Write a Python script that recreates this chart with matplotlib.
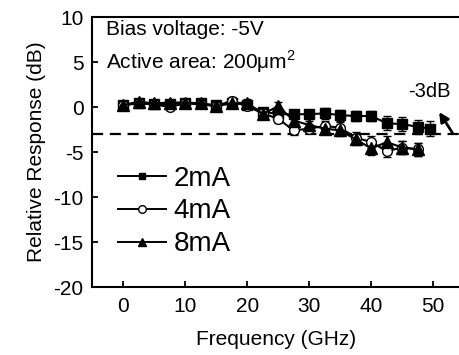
import matplotlib
matplotlib.use('Agg')
import matplotlib.pyplot as plt
from matplotlib.lines import Line2D

plt.rcParams['font.family'] = ['Liberation Sans', 'DejaVu Sans']
plt.rcParams['axes.unicode_minus'] = False

# frequency points (GHz)
f_2mA = [0, 2.5, 5, 7.5, 10, 12.5, 15, 17.5, 20, 22.5, 25, 27.5, 30, 32.5, 35, 37.5, 40, 42.5, 45, 47.5, 49.5]
f_4mA = [0, 2.5, 5, 7.5, 10, 12.5, 15, 17.5, 20, 22.5, 25, 27.5, 30, 32.5, 35, 37.5, 40, 42.5, 45, 47.5]
f_8mA = [0, 2.5, 5, 7.5, 10, 12.5, 15, 17.5, 20, 22.5, 25, 27.5, 30, 32.5, 35, 37.5, 40, 42.5, 45, 47.5]

# relative response (dB)
r_2mA = [0.2, 0.4, 0.3, 0.3, 0.5, 0.4, 0.2, 0.5, 0.2, -0.5, -0.8, -0.8, -0.8, -0.7, -0.9, -1.0, -1.0, -1.8, -1.9, -2.2, -2.4]
r_4mA = [0.2, 0.5, 0.3, 0.0, 0.4, 0.3, 0.1, 0.7, 0.1, -0.7, -1.3, -2.6, -2.4, -2.1, -2.3, -3.4, -3.9, -4.9, -4.5, -4.7]
r_8mA = [0.2, 0.6, 0.4, 0.5, 0.5, 0.4, 0.1, 0.4, 0.5, -0.8, 0.1, -1.5, -2.0, -2.4, -2.6, -3.6, -4.6, -3.9, -4.5, -4.7]

# error bars (dB)
e_2mA = [0.3, 0.3, 0.3, 0.3, 0.3, 0.3, 0.3, 0.3, 0.3, 0.4, 0.5, 0.5, 0.5, 0.6, 0.6, 0.6, 0.6, 0.8, 0.8, 0.8, 0.8]
e_4mA = [0.3, 0.3, 0.3, 0.3, 0.3, 0.3, 0.3, 0.4, 0.3, 0.4, 0.5, 0.5, 0.5, 0.5, 0.6, 0.6, 0.7, 0.7, 0.7, 0.7]
e_8mA = [0.3, 0.3, 0.3, 0.3, 0.3, 0.3, 0.3, 0.3, 0.4, 0.4, 0.5, 0.5, 0.5, 0.6, 0.6, 0.6, 0.7, 0.7, 0.7, 0.7]

fig = plt.figure(figsize=(4.6, 3.55), dpi=100)
ax = fig.add_axes([0.2, 0.1915, 0.8, 0.7605])

kw = dict(color='black', lw=1.5, elinewidth=1.0, capsize=3, capthick=1.0, mec='black')
ax.errorbar(f_2mA, r_2mA, yerr=e_2mA, marker='s', ms=6.5, mfc='black', **kw)
ax.errorbar(f_4mA, r_4mA, yerr=e_4mA, marker='o', ms=7, mfc='white', **kw)
ax.errorbar(f_8mA, r_8mA, yerr=e_8mA, marker='^', ms=8, mfc='black', **kw)

ax.axhline(-3, color='black', lw=1.6, dashes=(5, 3))

ax.set_xlim(-5, 54.3)
ax.set_ylim(-20, 10)
ax.set_xticks([0, 10, 20, 30, 40, 50])
ax.set_yticks([10, 5, 0, -5, -10, -15, -20])
ax.tick_params(direction='in', length=4, width=1.3, labelsize=15)
ax.tick_params(axis='x', pad=7)
ax.tick_params(axis='y', pad=6)
for s in ['left', 'bottom', 'top']:
    ax.spines[s].set_linewidth(1.5)
ax.spines['right'].set_visible(False)

ax.set_xlabel('Frequency (GHz)', fontsize=15, labelpad=10)
ax.set_ylabel('Relative Response (dB)', fontsize=15, labelpad=5)

ax.text(-2.8, 8.0, 'Bias voltage: -5V', fontsize=15, va='baseline', ha='left')
ax.text(-2.8, 4.3, r'Active area: 200$\mathregular{\mu}$m$^\mathregular{2}$', fontsize=15,
        va='baseline', ha='left')
ax.text(49.3, 1.1, '-3dB', fontsize=14.5, va='baseline', ha='center')
ax.annotate('', xy=(50.7, -0.3), xytext=(53.3, -3.1),
            arrowprops=dict(arrowstyle='-|>', color='black', lw=2, mutation_scale=14))

handles = [
    Line2D([], [], color='black', lw=1.4, marker='s', ms=5, mfc='black', mec='black'),
    Line2D([], [], color='black', lw=1.4, marker='o', ms=5.5, mfc='white', mec='black'),
    Line2D([], [], color='black', lw=1.4, marker='^', ms=6, mfc='black', mec='black'),
]
ax.legend(handles, ['2mA', '4mA', '8mA'], loc='upper left', bbox_to_anchor=(0.07, 0.45),
          frameon=False, fontsize=20, handlelength=1.75, handletextpad=0.25,
          labelspacing=0.25, borderpad=0, borderaxespad=0)

fig.savefig('out.png', dpi=100)
